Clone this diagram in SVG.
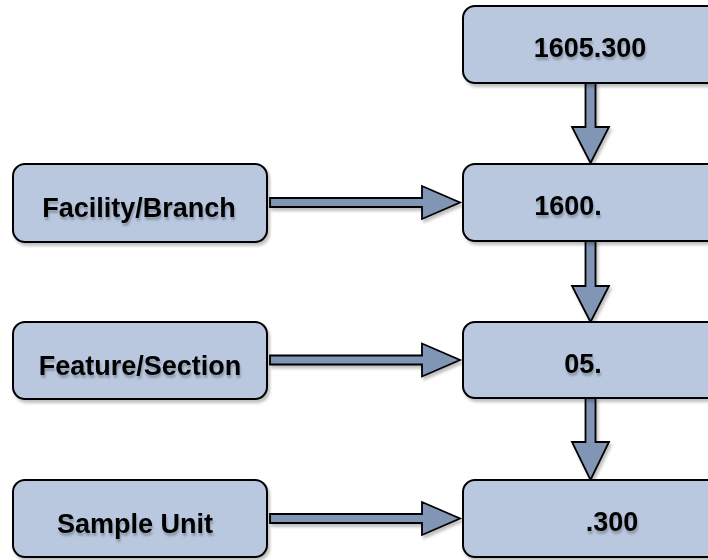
<svg xmlns="http://www.w3.org/2000/svg" width="708" height="560" viewBox="0 0 708 560">
<defs>
<filter id="sh" x="-10%" y="-10%" width="130%" height="130%">
<feDropShadow dx="2" dy="3" stdDeviation="1.5" flood-color="#000" flood-opacity="0.25"/>
</filter>
<filter id="ts" x="-10%" y="-20%" width="120%" height="160%">
<feDropShadow dx="1" dy="3" stdDeviation="1" flood-color="#000" flood-opacity="0.25"/>
</filter>
</defs>
<style>
.box{fill:#b9c8df;stroke:#000;stroke-width:2;filter:url(#sh)}
.arr{fill:#8096b4;stroke:#000;stroke-width:1.8;stroke-linejoin:miter;filter:url(#sh)}
.t{font-family:"Liberation Sans",Arial,sans-serif;font-weight:bold;font-size:27px;fill:#000;text-anchor:middle;filter:url(#ts)}
</style>
<rect width="708" height="560" fill="#fff"/>
<g id="connectors">
<path class="arr" d="M585.5 83 V127 H572 L590.5 163 L609 127 H595.5 V83 Z"/>
<path class="arr" d="M585.5 241 V286 H572 L590.5 322 L609 286 H595.5 V241 Z"/>
<path class="arr" d="M585.5 398 V442 H572 L590.5 480 L609 442 H595.5 V398 Z"/>
<path class="arr" d="M270 198 H422 V186 L460 202.5 L422 219 V207 H270 Z"/>
<path class="arr" d="M270 355.5 H422 V343.5 L460 360 L422 376.5 V364.5 H270 Z"/>
<path class="arr" d="M270 514 H422 V502 L460 518.5 L422 535 V523 H270 Z"/>
</g>
<g id="n1605300"><rect class="box" x="463" y="6" width="258" height="77" rx="12"/><text class="t" x="590" y="57">1605.300</text></g>
<g id="n1600"><rect class="box" x="463" y="164" width="258" height="77" rx="12"/><text class="t" x="568" y="215">1600.</text></g>
<g id="n05"><rect class="box" x="463" y="322" width="258" height="76" rx="12"/><text class="t" x="583" y="373">05.</text></g>
<g id="n300"><rect class="box" x="463" y="480" width="258" height="77" rx="12"/><text class="t" x="612" y="531">.300</text></g>
<g id="facility"><rect class="box" x="13" y="164" width="254" height="78" rx="12"/><text class="t" x="139" y="217">Facility/Branch</text></g>
<g id="feature"><rect class="box" x="13" y="322" width="254" height="77" rx="12"/><text class="t" x="140" y="375">Feature/Section</text></g>
<g id="sample"><rect class="box" x="13" y="480" width="254" height="77" rx="12"/><text class="t" x="135" y="533">Sample Unit</text></g>
</svg>
